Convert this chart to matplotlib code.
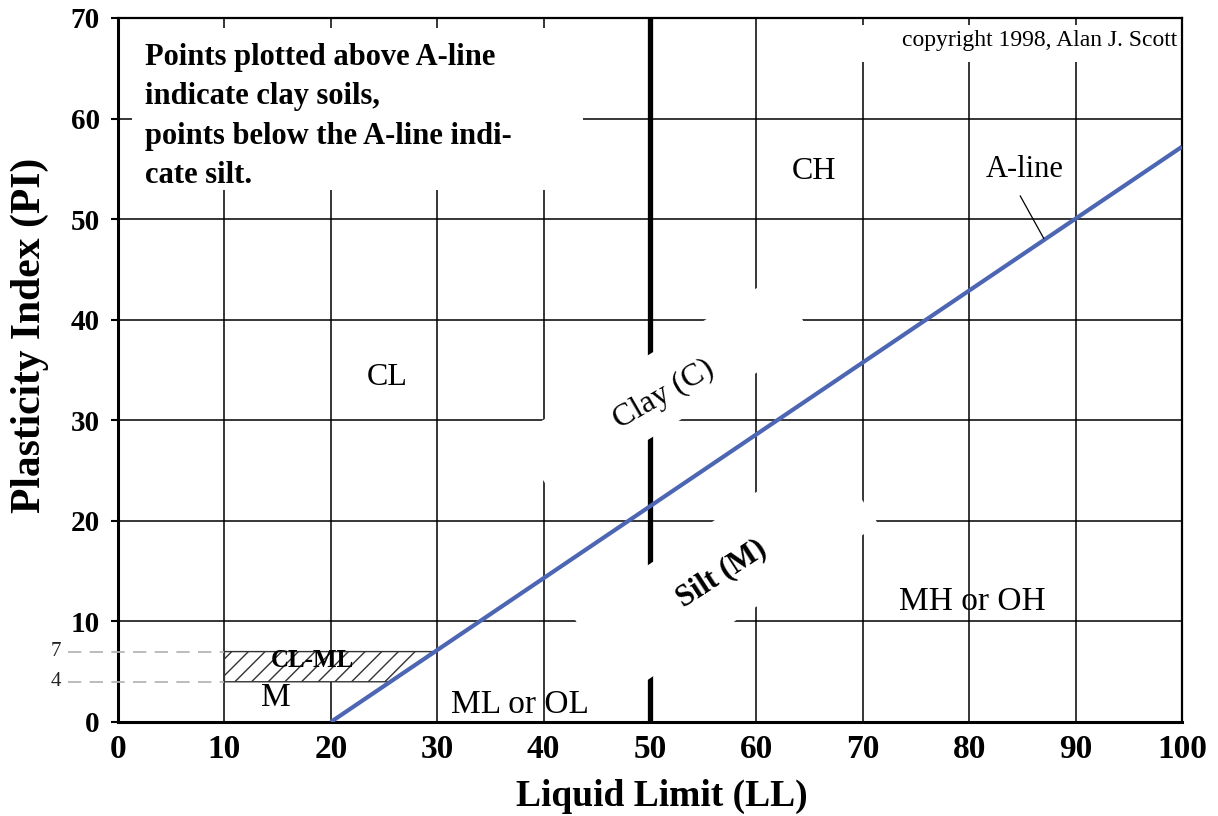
import numpy as np
import matplotlib
matplotlib.use('Agg')
import matplotlib.pyplot as plt
from matplotlib.patches import Rectangle, Polygon
from matplotlib import transforms

# ---- chart values ----------------------------------------------------------
ll_ticks = [0, 10, 20, 30, 40, 50, 60, 70, 80, 90, 100]
pi_ticks = [0, 10, 20, 30, 40, 50, 60, 70]
grid_ll = [10, 20, 30, 40, 60, 70, 80, 90]
grid_pi = [10, 20, 30, 40, 50, 60]
divide_ll = 50                    # clay / silt boundary (LL = 50)
aline_ll = [20, 100]              # A-line end points as drawn
aline_pi = [0, 57.2]
clml_pi = [4, 7]                  # CL-ML band limits
clml_ll_left = 10

SERIF = 'Liberation Serif'
plt.rcParams['font.family'] = SERIF
plt.rcParams['hatch.linewidth'] = 1.0

fig = plt.figure(figsize=(12.18, 8.16), dpi=100)
ax = fig.add_axes([118 / 1218, 94 / 816, 1064 / 1218, 704 / 816])
ax.set_xlim(0, 100)
ax.set_ylim(0, 70)

# grid
for x in grid_ll:
    ax.axvline(x, color='black', lw=1.1, zorder=1)
for y in grid_pi:
    ax.axhline(y, color='black', lw=1.1, zorder=1)
ax.axvline(divide_ll, color='black', lw=3.8, zorder=1)


def mask(cx, cy, w, h, angle=0):
    # white box (pixel sized) that knocks out the grid behind a label
    tr = transforms.Affine2D().rotate_deg(angle) + transforms.ScaledTranslation(cx, cy, ax.transData)
    ax.add_patch(Rectangle((-w / 2, -h / 2), w, h, transform=tr, facecolor='white',
                           edgecolor='none', zorder=2))


ax.add_patch(Rectangle((1.3, 52.9), 42.4, 16.1, facecolor='white', edgecolor='none', zorder=2))
ax.add_patch(Rectangle((66.4, 65.6), 33.4, 3.7, facecolor='white', edgecolor='none', zorder=2))
mask(51.4, 33.3, 305, 72, 31.7)
mask(57.1, 15.1, 305, 95, 34)

# CL-ML hatched band between LL=10 and the A-line
band_ll = np.interp(clml_pi, aline_pi, aline_ll)
band = Polygon([[clml_ll_left, clml_pi[0]], [band_ll[0], clml_pi[0]],
                [band_ll[1], clml_pi[1]], [clml_ll_left, clml_pi[1]]],
               closed=True, facecolor='white', edgecolor='#333333', hatch='//', lw=1.0, zorder=3)
ax.add_patch(band)
for y in clml_pi:
    ax.plot([-4.7, clml_ll_left], [y, y], color='#b0b0b0', lw=1.2, dashes=(8, 5),
            clip_on=False, zorder=3)
    ax.text(-5.3, y, str(y), ha='right', va='center', fontsize=15, color='#222222',
            clip_on=False)

# A-line
ax.plot(aline_ll, aline_pi, color='#4d66b3', lw=3.0, solid_capstyle='butt', zorder=5)
ax.plot([84.8, 87.0], [52.3, 48.1], color='black', lw=0.9, zorder=5)

# labels
ax.text(2.5, 67.5, 'Points plotted above A-line\nindicate clay soils,\n'
        'points below the A-line indi-\ncate silt.', ha='left', va='top',
        fontsize=22, fontweight='bold', linespacing=1.47, zorder=6)
ax.text(99.6, 67.8, 'copyright 1998, Alan J. Scott', ha='right', va='center',
        fontsize=17, zorder=6)
ax.text(25.3, 34.3, 'CL', ha='center', va='center', fontsize=23, zorder=6)
ax.text(65.4, 54.7, 'CH', ha='center', va='center', fontsize=23, zorder=6)
ax.text(85.2, 54.9, 'A-line', ha='center', va='center', fontsize=22, zorder=6)
ax.text(80.3, 12.0, 'MH or OH', ha='center', va='center', fontsize=24, zorder=6)
ax.text(37.8, 1.7, 'ML or OL', ha='center', va='center', fontsize=24, zorder=6)
ax.text(14.8, 2.4, 'M', ha='center', va='center', fontsize=24, zorder=6)
ax.text(18.3, 6.1, 'CL-ML', ha='center', va='center', fontsize=18, fontweight='bold', zorder=6)
ax.text(51.3, 32.6, 'Clay (C)', ha='center', va='center', fontsize=23, rotation=30,
        rotation_mode='anchor', zorder=6)
ax.text(56.7, 14.8, 'Silt (M)', ha='center', va='center', fontsize=22, fontweight='bold',
        rotation=33, rotation_mode='anchor', zorder=6)

# axes styling
ax.set_xticks(ll_ticks)
ax.set_yticks(pi_ticks)
ax.tick_params(axis='x', length=0, pad=9, labelsize=24)
ax.tick_params(axis='y', length=5, width=1.5, pad=8, labelsize=21)
for lab in ax.get_xticklabels() + ax.get_yticklabels():
    lab.set_fontweight('bold')
for side in ['left', 'bottom']:
    ax.spines[side].set_linewidth(2.2)
for side in ['top', 'right']:
    ax.spines[side].set_linewidth(1.6)

fig.text(662 / 1218, 1 - 796 / 816, 'Liquid Limit (LL)', ha='center', va='center',
         fontsize=27, fontweight='bold')
fig.text(30 / 1218, 1 - 335 / 816, 'Plasticity Index (PI)', ha='center', va='center',
         rotation=90, fontsize=30, fontweight='bold')

fig.savefig('out.png', dpi=100)
